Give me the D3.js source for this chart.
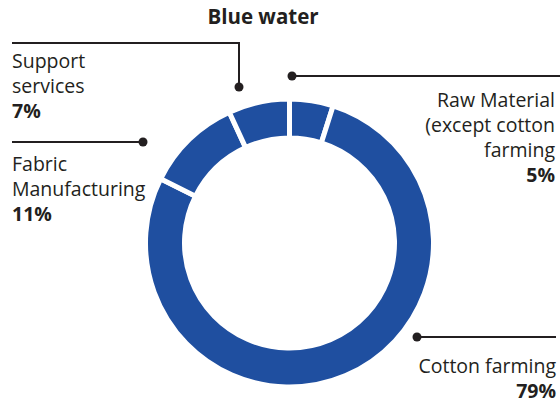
<!DOCTYPE html>
<html>
<head>
<meta charset="utf-8">
<script src="https://cdn.jsdelivr.net/npm/d3@7"></script>
<style>
  body { margin: 0; background: #fff; }
  text { font-family: "Open Sans", sans-serif; fill: #231f20; }
</style>
</head>
<body>
<div id="chart"></div>
<script>
// Data (clockwise from 12 o'clock)
const categories = ["Raw Material (except cotton farming", "Cotton farming", "Fabric Manufacturing", "Support services"];
const values = [5, 79, 11, 7];
const labelLines = [
    ["Raw Material", "(except cotton", "farming"],
    ["Cotton farming"],
    ["Fabric", "Manufacturing"],
    ["Support", "services"]
];

const width = 560;
const height = 407;
const cx = 289.5, cy = 243;
const outerR = 144, innerR = 105;

const svg = d3.select("#chart")
    .append("svg")
    .attr("width", width)
    .attr("height", height);

// Title
svg.append("text")
    .attr("x", 263)
    .attr("y", 24)
    .attr("text-anchor", "middle")
    .style("font-size", "20.5px")
    .style("font-weight", "bold")
    .text("Blue water");

const pie = d3.pie().sort(null).value(d => d);
const arc = d3.arc().innerRadius(innerR).outerRadius(outerR);

const g = svg.append("g").attr("transform", `translate(${cx},${cy})`);
g.selectAll("path")
    .data(pie(values))
    .enter().append("path")
    .attr("d", arc)
    .attr("fill", "#1f4fa0")
    .attr("stroke", "#fff")
    .attr("stroke-width", 5);

// Leader lines + labels (positions per label)
const callouts = [
    { dot: [292, 76], line: [[292, 76], [560, 76]], x: 555, y: 107, anchor: "end" },
    { dot: [417, 337], line: [[417, 337], [556, 337]], x: 556, y: 373, anchor: "end" },
    { dot: [143, 142], line: [[12, 142], [143, 142]], x: 12, y: 171, anchor: "start" },
    { dot: [239, 87], line: [[12, 43], [239, 43], [239, 87]], x: 12, y: 68, anchor: "start" }
];

const lh = 25;
callouts.forEach((c, i) => {
    svg.append("path")
        .attr("d", d3.line()(c.line))
        .attr("fill", "none")
        .attr("stroke", "#231f20")
        .attr("stroke-width", 2);
    svg.append("circle")
        .attr("cx", c.dot[0]).attr("cy", c.dot[1]).attr("r", 4.5)
        .attr("fill", "#231f20");
    const t = svg.append("text")
        .attr("text-anchor", c.anchor)
        .style("font-size", "19.5px");
    labelLines[i].forEach((s, j) => {
        t.append("tspan").attr("x", c.x).attr("y", c.y + j * lh).text(s);
    });
    t.append("tspan")
        .attr("x", c.x).attr("y", c.y + labelLines[i].length * lh)
        .style("font-weight", "bold")
        .text(values[i] + "%");
});
</script>
</body>
</html>
